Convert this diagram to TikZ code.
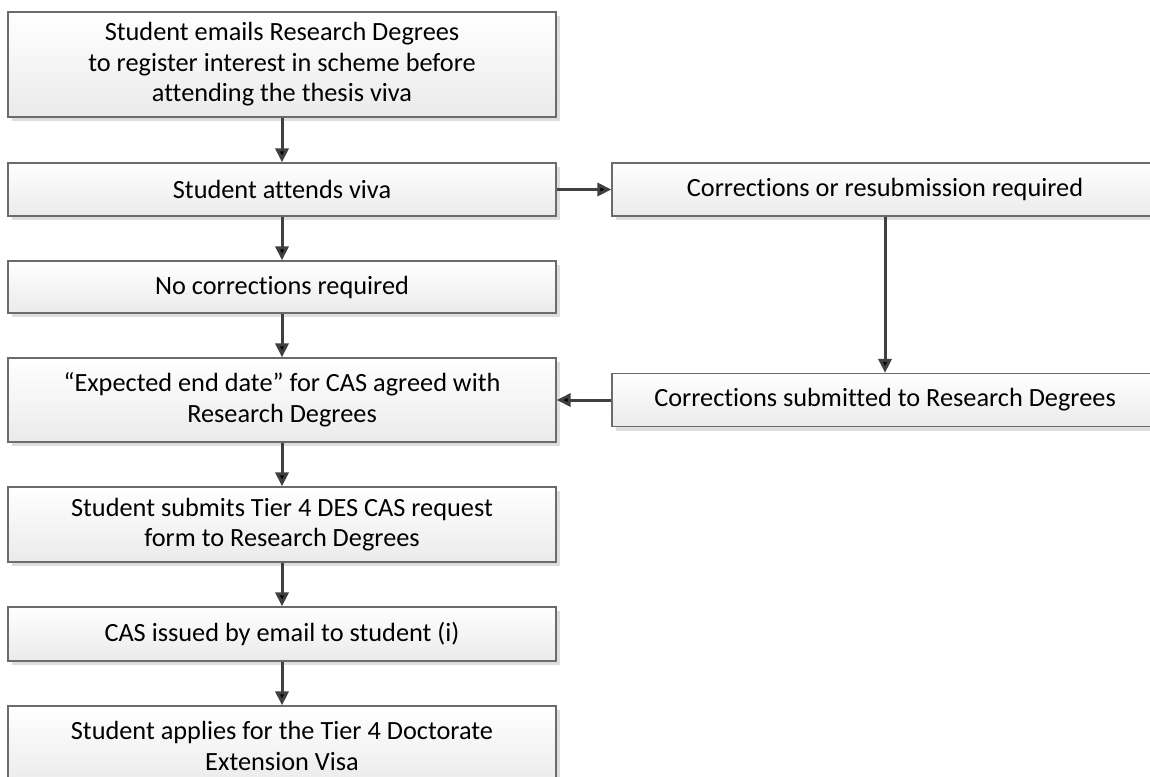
\documentclass[tikz,border=0pt]{standalone}
\usepackage{fontspec}
\setmainfont{Carlito}[Ligatures=NoCommon]
\usetikzlibrary{arrows.meta,shadows}

\begin{document}
\begin{tikzpicture}[x=1pt, y=-1pt,
flow node/.style={rectangle, draw=black!58, line width=1.2pt, top color=white, bottom color=black!8, drop shadow={shadow xshift=4pt, shadow yshift=-4pt, fill=black!13, opacity=1}, minimum width=548pt, inner sep=0pt, align=center, font=\fontsize{26.3}{30.5}\selectfont},
side node/.style={flow node, minimum width=546pt},
flow arrow/.style={-{Triangle[length=14pt, width=13pt]}, draw=black!75, line width=3pt}]
\useasboundingbox (0,0) rectangle (1150,776);

% left column
\node[flow node, minimum height=105pt] (n0) at (282, 64.5) {Student emails Research Degrees\\to register interest in scheme before\\attending the thesis viva};

\node[flow node, minimum height=53pt] (n1) at (282, 189.5) {Student attends viva};

\node[flow node, minimum height=52pt] (n2) at (282, 287) {No corrections required};

\node[flow node, minimum height=84pt] (n3) at (282, 400) {“Expected end date” for CAS agreed with\\Research Degrees};

\node[flow node, minimum height=75pt] (n4) at (282, 524.5) {Student submits Tier 4 DES CAS request\\form to Research Degrees};

\node[flow node, minimum height=54pt] (n5) at (282, 634) {CAS issued by email to student (i)};

\node[flow node, minimum height=80pt] (n6) at (282, 746) {Student applies for the Tier 4 Doctorate\\Extension Visa};

% right column
\node[side node, minimum height=53pt] (r0) at (885, 189.5) {Corrections or resubmission required};

\node[side node, minimum height=53pt] (r1) at (885, 400) {Corrections submitted to Research Degrees};

\path[]
% main line
(n0) [flow arrow] edge (n1)
(n1) [flow arrow] edge (n2)
(n2) [flow arrow] edge (n3)
(n3) [flow arrow] edge (n4)
(n4) [flow arrow] edge (n5)
(n5) [flow arrow] edge (n6)

% corrections loop
(n1) [flow arrow] edge (r0)
(r0) [flow arrow] edge (r1)
(r1) [flow arrow] edge (n3)
;

\end{tikzpicture}
\end{document}
